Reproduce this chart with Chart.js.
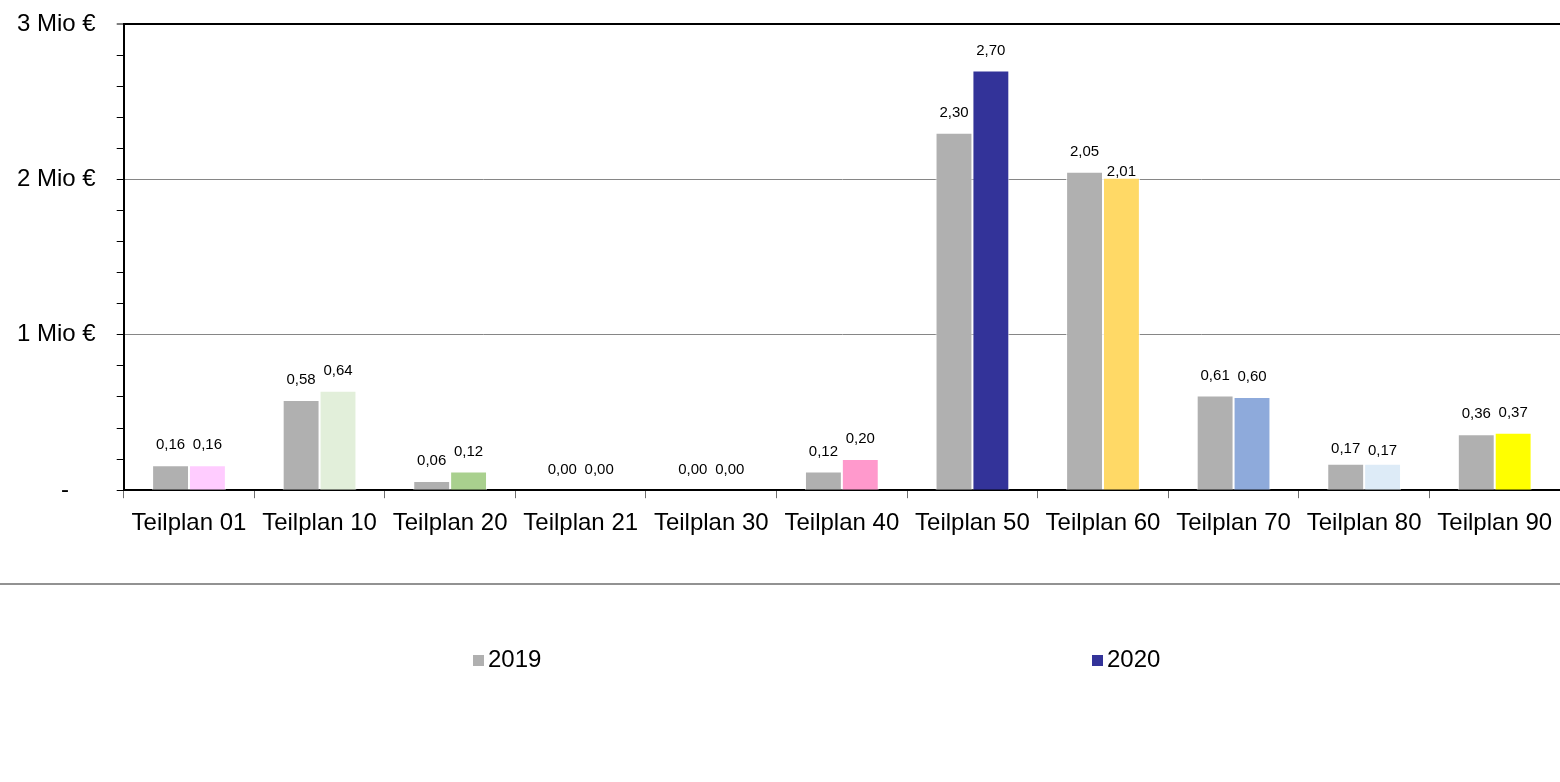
<!DOCTYPE html>
<html lang="de">
<head>
<meta charset="utf-8">
<title>Teilpläne 2019 / 2020</title>
<script src="https://cdn.jsdelivr.net/npm/chart.js@4"></script>
<style>
  html, body { margin: 0; padding: 0; background: #fff; }
  #wrap { width: 1560px; height: 782px; }
</style>
</head>
<body>
<div id="wrap"><canvas id="teilplanChart" width="1560" height="782"></canvas></div>
<script>
// Werte in Mio €
const teilplaene = ['Teilplan 01', 'Teilplan 10', 'Teilplan 20', 'Teilplan 21', 'Teilplan 30', 'Teilplan 40',
                    'Teilplan 50', 'Teilplan 60', 'Teilplan 70', 'Teilplan 80', 'Teilplan 90'];
const werte2019 = [0.16, 0.58, 0.06, 0.00, 0.00, 0.12, 2.30, 2.05, 0.61, 0.17, 0.36];
const werte2020 = [0.16, 0.64, 0.12, 0.00, 0.00, 0.20, 2.70, 2.01, 0.60, 0.17, 0.37];
const jahre = ['2019', '2020'];

// jede Säule 2020 hat die Farbe ihres Teilplans
const farbe2019 = '#b0b0b0';
const farben2020 = ['#ffccff', '#e2efda', '#a9d08e', '#c6e0b4', '#d9d9d9', '#ff99cc',
                    '#333399', '#ffd966', '#8eaadb', '#ddebf7', '#ffff00'];
const legendFarben = ['#b0b0b0', '#333399'];

const FONT = "'Liberation Sans', Arial, sans-serif";

function istGanzzahl(v) {
    return Math.abs(v - Math.round(v)) < 1e-6;
}

function formatWert(v) {
    return v.toFixed(2).replace('.', ',');
}

// Werte über den Säulen
const wertLabels = {
    id: 'wertLabels',
    afterDatasetsDraw(chart, args, opts) {
        const ctx = chart.ctx;
        ctx.save();
        ctx.font = '15px ' + FONT;
        ctx.fillStyle = '#000';
        ctx.textAlign = 'center';
        ctx.textBaseline = 'middle';
        chart.data.datasets.forEach((ds, di) => {
            const meta = chart.getDatasetMeta(di);
            meta.data.forEach((bar, i) => {
                const nudge = opts.nudge[di + ':' + i] || 0;
                ctx.fillText(formatWert(ds.data[i]), bar.x, bar.y - 20 + nudge);
            });
        });
        ctx.restore();
    }
};

// Trennlinie und Legende unter dem Diagramm
const legendeUnten = {
    id: 'legendeUnten',
    afterDraw(chart, args, opts) {
        const ctx = chart.ctx;
        ctx.save();
        ctx.strokeStyle = '#6e6e6e';
        ctx.lineWidth = 1.5;
        ctx.beginPath();
        ctx.moveTo(0, opts.lineY);
        ctx.lineTo(chart.width, opts.lineY);
        ctx.stroke();

        ctx.font = '24px ' + FONT;
        ctx.textAlign = 'left';
        ctx.textBaseline = 'middle';
        jahre.forEach((jahr, i) => {
            const x = opts.itemX[i];
            ctx.fillStyle = legendFarben[i];
            ctx.fillRect(x, opts.itemY - 5, 11, 11);
            ctx.fillStyle = '#000';
            ctx.fillText(jahr, x + 15, opts.itemY);
        });
        ctx.restore();
    }
};

// Achsen sollen nicht zusätzlich Platz für überstehende Beschriftungen reservieren
function ohneRandPadding(scale) {
    scale.paddingTop = 0;
    scale.paddingBottom = 0;
    scale.paddingLeft = 0;
    scale.paddingRight = 0;
}

const ctx = document.getElementById('teilplanChart').getContext('2d');

new Chart(ctx, {
    type: 'bar',
    data: {
        labels: teilplaene,
        datasets: [{
            label: jahre[0],
            data: werte2019,
            backgroundColor: farbe2019,
            borderColor: 'rgba(255,255,255,0.85)',
            borderWidth: 1,
            barPercentage: 1,
            categoryPercentage: 0.565
        }, {
            label: jahre[1],
            data: werte2020,
            backgroundColor: farben2020,
            borderColor: 'rgba(255,255,255,0.85)',
            borderWidth: 1,
            barPercentage: 1,
            categoryPercentage: 0.565
        }]
    },
    plugins: [wertLabels, legendeUnten],
    options: {
        responsive: false,
        animation: false,
        devicePixelRatio: 1,
        layout: {
            padding: { top: 24, left: -4, right: 0, bottom: 233 }
        },
        plugins: {
            legend: { display: false },
            tooltip: { enabled: false },
            wertLabels: {
                nudge: { '1:7': 14, '1:9': 7, '0:9': 5 }
            },
            legendeUnten: {
                lineY: 584,
                itemY: 660,
                itemX: [473, 1092]
            }
        },
        scales: {
            x: {
                offset: true,
                afterFit: ohneRandPadding,
                grid: {
                    offset: true,
                    drawOnChartArea: false,
                    tickColor: '#6e6e6e',
                    tickLength: 8
                },
                border: { color: '#000', width: 2 },
                ticks: {
                    color: '#000',
                    font: { family: FONT, size: 24 },
                    padding: 11,
                    maxRotation: 0,
                    autoSkip: false
                }
            },
            y: {
                min: 0,
                max: 3,
                afterFit: ohneRandPadding,
                grid: {
                    color: c => {
                        const v = c.tick.value;
                        if (!istGanzzahl(v)) return 'rgba(0,0,0,0)';
                        return Math.round(v) === 3 ? '#000' : '#868686';
                    },
                    lineWidth: c => Math.round(c.tick.value * 10) === 30 ? 2 : 1,
                    tickColor: '#000',
                    tickWidth: 1,
                    tickLength: 7
                },
                border: { color: '#000', width: 2 },
                ticks: {
                    stepSize: 0.2,
                    autoSkip: false,
                    color: '#000',
                    padding: 21,
                    font: { family: FONT, size: 24 },
                    callback: v => {
                        if (!istGanzzahl(v)) return '';
                        const n = Math.round(v);
                        return n === 0 ? '-\u00a0\u00a0\u00a0\u00a0' : n + ' Mio €';
                    }
                }
            }
        }
    }
});
</script>
</body>
</html>
